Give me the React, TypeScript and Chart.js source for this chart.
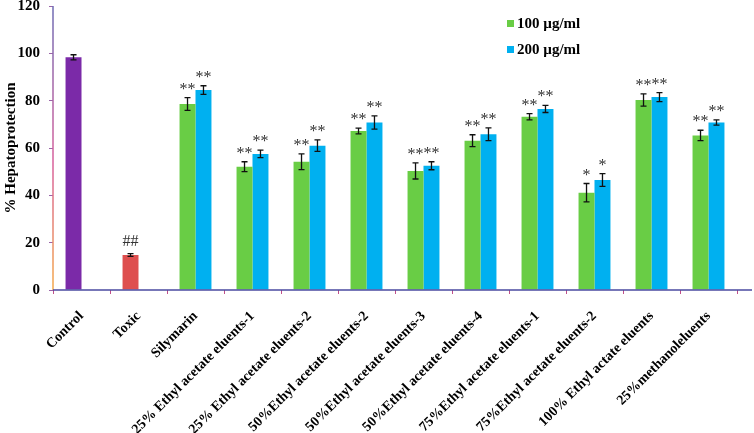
import { useEffect, useRef } from "react"
import { Chart, registerables, type ChartConfiguration, type Plugin } from "chart.js"

Chart.register(...registerables)

const categories = [
  "Control",
  "Toxic",
  "Silymarin",
  "25% Ethyl acetate eluents-1",
  "25% Ethyl acetate eluents-2",
  "50%Ethyl acetate eluents-2",
  "50%Ethyl acetate eluents-3",
  "50%Ethyl acetate eluents-4",
  "75%Ethyl acetate eluents-1",
  "75%Ethyl acetate eluents-2",
  "100% Ethyl actate eluents",
  "25%methanoleluents",
]

const dose100 = [98.3, 14.8, 78.6, 52.1, 54.2, 67.2, 50.3, 63.1, 73.2, 41.1, 80.3, 65.3]
const dose200 = [null, null, 84.5, 57.5, 61.0, 70.8, 52.5, 65.8, 76.5, 46.5, 81.5, 70.8]
const err100 = [1.1, 0.6, 2.7, 2.1, 3.3, 1.2, 3.4, 2.5, 1.3, 3.9, 2.6, 2.2]
const err200 = [0, 0, 1.8, 1.6, 2.4, 2.8, 1.7, 2.7, 1.5, 2.7, 1.9, 1.1]
const marks100 = ["", "##", "**", "**", "**", "**", "**", "**", "**", "*", "**", "**"]
const marks200 = ["", "", "**", "**", "**", "**", "**", "**", "**", "*", "**", "**"]

const legendLabels = ["100 µg/ml", "200 µg/ml"]

const PURPLE = "#7B2AA8"
const RED = "#DE4F4F"
const GREEN = "#69CD45"
const BLUE = "#00B0F0"

const SERIF = '"Liberation Serif", "Times New Roman", serif'

// error bars, significance marks, axis lines and the legend
const decor: Plugin<"bar"> = {
  id: "decor",
  afterDatasetsDraw(chart) {
    const ctx = chart.ctx
    const y = chart.scales.y
    const errs = [err100, err200]
    const marks = [marks100, marks200]
    chart.data.datasets.forEach((ds, di) => {
      const meta = chart.getDatasetMeta(di)
      meta.data.forEach((bar: any, i) => {
        const v = ds.data[i] as number | null
        if (v == null) return
        const e = errs[di][i]
        const top = y.getPixelForValue(v + e)
        const bot = y.getPixelForValue(v - e)
        ctx.save()
        ctx.strokeStyle = "#111"
        ctx.lineWidth = 1.3
        ctx.beginPath()
        ctx.moveTo(bar.x, top)
        ctx.lineTo(bar.x, bot)
        ctx.moveTo(bar.x - 3, top)
        ctx.lineTo(bar.x + 3, top)
        ctx.moveTo(bar.x - 3, bot)
        ctx.lineTo(bar.x + 3, bot)
        ctx.stroke()
        const m = marks[di][i]
        if (m) {
          ctx.fillStyle = "#333"
          ctx.font = `16px ${SERIF}`
          ctx.textAlign = "center"
          ctx.textBaseline = "alphabetic"
          ctx.fillText(m, bar.x, top - (m === "##" ? 8 : 4))
        }
        ctx.restore()
      })
    })
  },
  afterDraw(chart) {
    const ctx = chart.ctx
    const a = chart.chartArea
    ctx.save()
    // y axis line with gradient
    const g = ctx.createLinearGradient(0, a.top, 0, a.bottom)
    g.addColorStop(0, "#6E6CB4")
    g.addColorStop(0.55, "#D8609C")
    g.addColorStop(1, "#F4A94A")
    ctx.strokeStyle = g
    ctx.lineWidth = 1.5
    ctx.beginPath()
    ctx.moveTo(a.left, a.top)
    ctx.lineTo(a.left, a.bottom)
    ctx.stroke()
    // x axis line
    ctx.strokeStyle = "#4A4AA0"
    ctx.lineWidth = 1.5
    ctx.beginPath()
    ctx.moveTo(a.left, a.bottom)
    ctx.lineTo(chart.width - 2, a.bottom)
    ctx.stroke()
    // legend
    const colors = [GREEN, BLUE]
    ctx.font = `bold 15px ${SERIF}`
    ctx.textAlign = "left"
    ctx.textBaseline = "middle"
    legendLabels.forEach((t, i) => {
      const ly = a.top + 18 + i * 26
      ctx.fillStyle = colors[i]
      ctx.fillRect(a.left + 454, ly - 4, 7, 7)
      ctx.fillStyle = "#000"
      ctx.fillText(t, a.left + 464, ly)
    })
    ctx.restore()
  },
}

export default function App() {
  const chartRef = useRef<HTMLCanvasElement>(null)
  const chartInstance = useRef<Chart | null>(null)

  useEffect(() => {
    document.body.style.margin = "0"
    if (!chartRef.current) return
    const ctx = chartRef.current.getContext("2d")
    if (!ctx) return

    if (chartInstance.current) {
      chartInstance.current.destroy()
    }

    const config: ChartConfiguration<"bar"> = {
      type: "bar",
      data: {
        labels: categories,
        datasets: [
          {
            label: legendLabels[0],
            data: dose100,
            backgroundColor: [PURPLE, RED, ...dose100.slice(2).map(() => GREEN)],
            borderWidth: 0,
            barPercentage: 1,
            categoryPercentage: 0.56,
          },
          {
            label: legendLabels[1],
            data: dose200,
            backgroundColor: BLUE,
            borderWidth: 0,
            barPercentage: 1,
            categoryPercentage: 0.56,
          },
        ],
      },
      options: {
        responsive: true,
        maintainAspectRatio: false,
        animation: false,
        layout: { padding: { top: 6, right: 17, left: 0, bottom: 0 } },
        plugins: {
          legend: { display: false },
          tooltip: { enabled: false },
        },
        scales: {
          x: {
            border: { display: false },
            grid: {
              drawOnChartArea: false,
              drawTicks: true,
              tickLength: 4,
              color: "#C0508A",
            },
            ticks: {
              autoSkip: false,
              minRotation: 45,
              maxRotation: 45,
              padding: 14,
              color: "#000",
              font: { family: SERIF, size: 14, weight: "bold" },
            },
            afterFit: (scale: any) => {
              scale.height = 143
            },
          },
          y: {
            min: 0,
            max: 120,
            border: { display: false },
            grid: {
              drawOnChartArea: false,
              drawTicks: true,
              tickLength: 4,
              color: "#9A64A8",
            },
            ticks: {
              stepSize: 20,
              padding: 9,
              color: "#000",
              font: { family: SERIF, size: 15, weight: "bold" },
            },
            title: {
              display: true,
              text: "% Hepatoprotection",
              color: "#000",
              padding: { top: 2, bottom: 0 },
              font: { family: SERIF, size: 15, weight: "bold" },
            },
            afterFit: (scale: any) => {
              scale.width = 53
              scale.paddingTop = 0
              scale.paddingBottom = 0
            },
          },
        },
      },
      plugins: [decor],
    }

    chartInstance.current = new Chart(ctx, config)

    return () => {
      if (chartInstance.current) {
        chartInstance.current.destroy()
      }
    }
  }, [])

  return (
    <div style={{ position: "relative", width: 754, height: 433 }}>
      <canvas ref={chartRef}></canvas>
    </div>
  )
}
